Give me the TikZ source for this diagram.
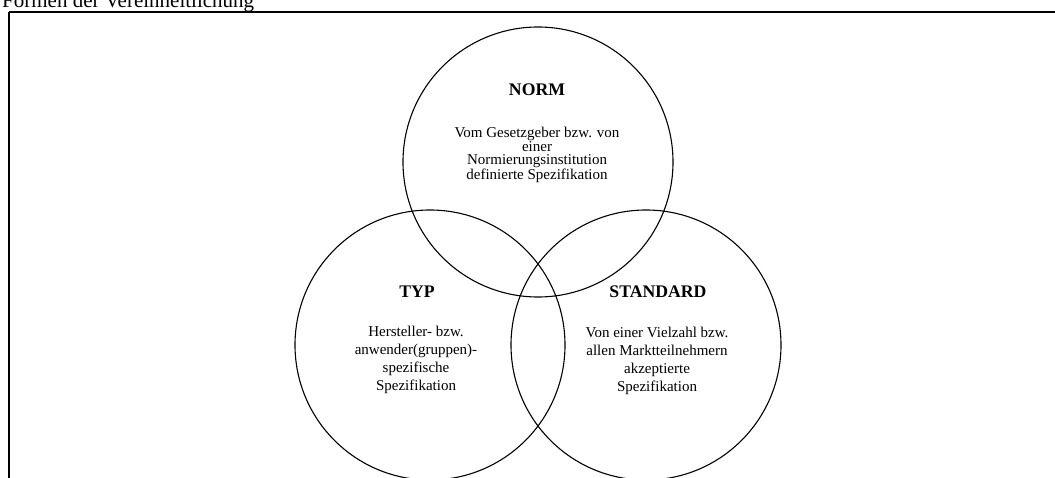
\documentclass[tikz,border=0pt]{standalone}
\usepackage{fontspec}
\setmainfont{Liberation Serif}
\begin{document}
\begin{tikzpicture}[x=1pt,y=-1pt,
  venn/.style={circle,draw=black,line width=1.1pt,minimum size=270pt,inner sep=0pt,outer sep=0pt},
  heading/.style={font=\fontsize{17.7}{20}\selectfont\bfseries,inner sep=0pt},
  bodytext/.style={align=center,inner sep=0pt,font=\fontsize{15}{18}\selectfont},
  tightbody/.style={align=center,inner sep=0pt,font=\fontsize{15}{13.3}\selectfont}]
  \useasboundingbox (0,0) rectangle (1055,478);
  \clip (0,0) rectangle (1055,478);

  % caption above the frame, partly cut off at the top edge
  \node[anchor=base west,inner sep=0pt,font=\fontsize{21}{24}\selectfont] (caption) at (2,8) {Formen der Vereinheitlichung};

  % frame: left and top edges
  \coordinate (fbl) at (9,478);
  \coordinate (ftl) at (9,12);
  \coordinate (ftr) at (1055,12);
  \draw[line width=2pt] (fbl) -- (ftl);
  \draw[line width=1.5pt] (ftl) -- (ftr);

  % the three overlapping sets
  \node[venn] (norm) at (538,162) {};
  \node[venn] (typ) at (430,345) {};
  \node[venn] (std) at (646,345) {};

  % labels
  \node[heading] (normtitle) at (537,90) {NORM};
  \node[tightbody] (normtext) at (537,155) {Vom Gesetzgeber bzw. von\\einer\\Normierungsinstitution\\definierte Spezifikation};

  \node[heading] (typtitle) at (417,292) {TYP};
  \node[bodytext] (typtext) at (416,360) {Hersteller- bzw.\\anwender(gruppen)-\\spezifische\\Spezifikation};

  \node[heading] (stdtitle) at (658,292) {STANDARD};
  \node[bodytext] (stdtext) at (657,361) {Von einer Vielzahl bzw.\\allen Marktteilnehmern\\akzeptierte\\Spezifikation};
\end{tikzpicture}
\end{document}
